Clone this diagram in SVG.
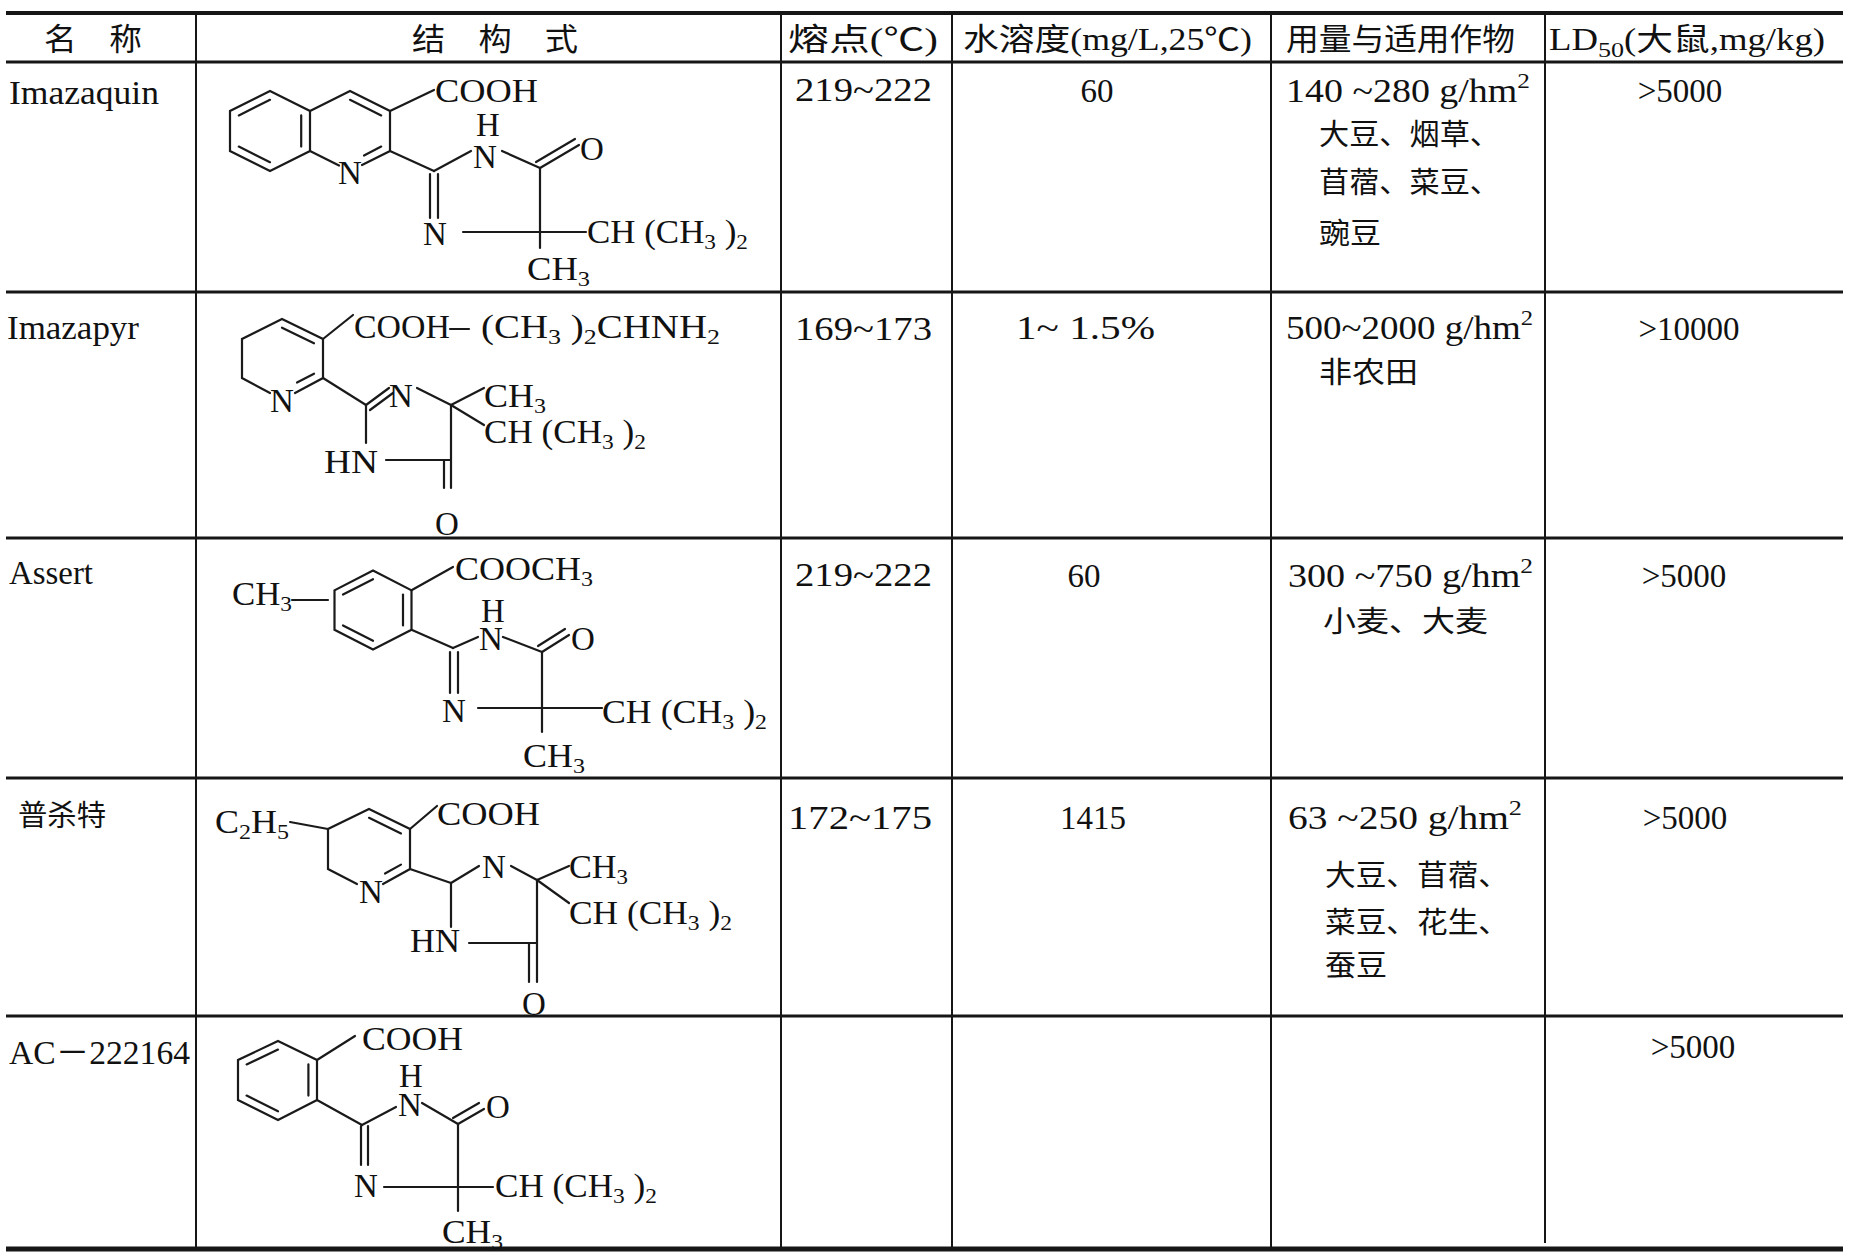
<svg xmlns="http://www.w3.org/2000/svg" width="1850" height="1257" viewBox="0 0 1850 1257">
<style>
.bg{fill:#fff}
.rule{stroke:#161616;fill:none}
.b{stroke:#1a1a1a;stroke-width:2.2;fill:none;stroke-linecap:round}
.tx{font-family:"Liberation Serif","Noto Sans CJK SC",serif;font-size:33px;fill:#111}
.ch{font-family:"Liberation Serif","Noto Sans CJK SC",serif;font-size:33px;fill:#111}
.cj{font-family:"Liberation Serif","Noto Sans CJK SC",sans-serif;font-size:29px;fill:#111}
.hd{font-family:"Liberation Serif","Noto Sans CJK SC",sans-serif;font-size:31px;fill:#111}
.m{text-anchor:middle}
.sb{font-size:22px}
</style>
<rect class="bg" x="0" y="0" width="1850" height="1257"/>

<g id="table-grid">
  <line class="rule" x1="6" y1="13" x2="1843" y2="13" stroke-width="4"/>
  <line class="rule" x1="6" y1="62" x2="1843" y2="62" stroke-width="3"/>
  <line class="rule" x1="6" y1="292" x2="1843" y2="292" stroke-width="3"/>
  <line class="rule" x1="6" y1="538" x2="1843" y2="538" stroke-width="3"/>
  <line class="rule" x1="6" y1="778" x2="1843" y2="778" stroke-width="3"/>
  <line class="rule" x1="6" y1="1016" x2="1843" y2="1016" stroke-width="3"/>
  <line class="rule" x1="6" y1="1249" x2="1843" y2="1249" stroke-width="5"/>
  <line class="rule" x1="196" y1="13" x2="196" y2="1249" stroke-width="2"/>
  <line class="rule" x1="781" y1="13" x2="781" y2="1249" stroke-width="2"/>
  <line class="rule" x1="952" y1="13" x2="952" y2="1249" stroke-width="2"/>
  <line class="rule" x1="1271" y1="13" x2="1271" y2="1249" stroke-width="2"/>
  <line class="rule" x1="1545" y1="13" x2="1545" y2="1243" stroke-width="2"/>
</g>

<g id="header">
  <text class="hd" x="44" y="50" textLength="98" lengthAdjust="spacingAndGlyphs">名　称</text>
  <text class="hd" x="412" y="50" textLength="166" lengthAdjust="spacingAndGlyphs">结　构　式</text>
  <text class="hd" x="788" y="50" textLength="150" lengthAdjust="spacingAndGlyphs">熔点(℃)</text>
  <text class="hd" x="963" y="50" textLength="289" lengthAdjust="spacingAndGlyphs">水溶度(mg/L,25℃)</text>
  <text class="hd" x="1286" y="50" textLength="229" lengthAdjust="spacingAndGlyphs">用量与适用作物</text>
  <text class="hd" x="1549" y="50" textLength="276" lengthAdjust="spacingAndGlyphs">LD<tspan class="sb" dy="7">50</tspan><tspan dy="-7">(大鼠,mg/kg)</tspan></text>
</g>

<g id="connectors">
  <!-- Row 1: Imazaquin -->
  <g id="bonds-imazaquin">
    <polygon class="b" points="270,91 310,111 310,151 270,171 230,151 230,111"/>
    <line class="b" x1="238.8" y1="115.4" x2="270" y2="99.8"/>
    <line class="b" x1="301.2" y1="115.4" x2="301.2" y2="146.6"/>
    <line class="b" x1="238.8" y1="146.6" x2="270" y2="162.2"/>
    <polyline class="b" points="310,111 350,91 390,111 390,151 362,165"/>
    <line class="b" x1="350" y1="99.8" x2="381.2" y2="115.4"/>
    <line class="b" x1="381.2" y1="146.6" x2="364" y2="155.5"/>
    <line class="b" x1="339" y1="165.5" x2="310" y2="151"/>
    <line class="b" x1="390" y1="111" x2="434" y2="90"/>
    <line class="b" x1="390" y1="151" x2="434" y2="171"/>
    <line class="b" x1="434" y1="171" x2="471" y2="151"/>
    <line class="b" x1="502" y1="151" x2="540" y2="168"/>
    <line class="b" x1="540" y1="168" x2="579" y2="145"/>
    <line class="b" x1="536" y1="162" x2="575" y2="139"/>
    <line class="b" x1="540" y1="168" x2="540" y2="248"/>
    <line class="b" x1="463" y1="232" x2="586" y2="232"/>
    <line class="b" x1="430" y1="174" x2="430" y2="218"/>
    <line class="b" x1="438" y1="174" x2="438" y2="218"/>
  </g>
  <!-- Row 2: Imazapyr -->
  <g id="bonds-imazapyr">
    <polyline class="b" points="270,393 242,378 242,339 282,319 323,339 323,378 295,393"/>
    <line class="b" x1="282" y1="327.7" x2="314" y2="343.3"/>
    <line class="b" x1="314" y1="373.7" x2="297" y2="382.5"/>
    <line class="b" x1="323" y1="339" x2="353" y2="315"/>
    <line class="b" x1="450" y1="329" x2="469" y2="329"/>
    <line class="b" x1="323" y1="378" x2="366" y2="405"/>
    <line class="b" x1="366" y1="405" x2="389" y2="388"/>
    <line class="b" x1="370" y1="410" x2="393" y2="393"/>
    <line class="b" x1="417" y1="388" x2="451" y2="405"/>
    <line class="b" x1="451" y1="405" x2="484" y2="388"/>
    <line class="b" x1="451" y1="405" x2="484" y2="425"/>
    <line class="b" x1="451" y1="405" x2="451" y2="488"/>
    <line class="b" x1="444" y1="460" x2="444" y2="488"/>
    <line class="b" x1="366" y1="405" x2="366" y2="443"/>
    <line class="b" x1="386" y1="460" x2="451" y2="460"/>
  </g>
  <!-- Row 3: Assert -->
  <g id="bonds-assert">
    <polygon class="b" points="373,570.5 411.5,590.3 411.5,629.8 373,649.5 334.5,629.8 334.5,590.3"/>
    <line class="b" x1="343" y1="594.6" x2="373" y2="579.2"/>
    <line class="b" x1="403" y1="594.6" x2="403" y2="625.4"/>
    <line class="b" x1="343" y1="625.4" x2="373" y2="640.8"/>
    <line class="b" x1="292" y1="600" x2="328" y2="600"/>
    <line class="b" x1="411.5" y1="590.3" x2="453" y2="567"/>
    <line class="b" x1="411.5" y1="629.8" x2="453" y2="648"/>
    <line class="b" x1="453" y1="648" x2="478" y2="637"/>
    <line class="b" x1="503" y1="637" x2="542" y2="652"/>
    <line class="b" x1="542" y1="652" x2="569" y2="635"/>
    <line class="b" x1="538" y1="646" x2="565" y2="629"/>
    <line class="b" x1="542" y1="652" x2="542" y2="732"/>
    <line class="b" x1="478" y1="708" x2="602" y2="708"/>
    <line class="b" x1="450" y1="652" x2="450" y2="693"/>
    <line class="b" x1="458" y1="652" x2="458" y2="693"/>
  </g>
  <!-- Row 4: 普杀特 -->
  <g id="bonds-pusate">
    <polyline class="b" points="357,884 328,869 328,829 369,809 410,829 410,869 383,884"/>
    <line class="b" x1="369" y1="817.8" x2="401" y2="833.4"/>
    <line class="b" x1="401" y1="864.6" x2="385" y2="873.5"/>
    <line class="b" x1="290" y1="822" x2="328" y2="829"/>
    <line class="b" x1="410" y1="829" x2="437" y2="806"/>
    <line class="b" x1="410" y1="869" x2="451" y2="883"/>
    <line class="b" x1="451" y1="883" x2="479" y2="866"/>
    <line class="b" x1="511" y1="866" x2="537" y2="880"/>
    <line class="b" x1="537" y1="880" x2="569" y2="866"/>
    <line class="b" x1="537" y1="880" x2="569" y2="903"/>
    <line class="b" x1="537" y1="880" x2="537" y2="982"/>
    <line class="b" x1="529" y1="943" x2="529" y2="982"/>
    <line class="b" x1="451" y1="883" x2="451" y2="927"/>
    <line class="b" x1="469" y1="943" x2="537" y2="943"/>
  </g>
  <!-- Row 5: AC-222164 -->
  <g id="bonds-ac222164">
    <polygon class="b" points="278,1041 317,1060 317,1100 278,1120 238,1100 238,1060"/>
    <line class="b" x1="246.6" y1="1064.4" x2="278" y2="1049.6"/>
    <line class="b" x1="308.4" y1="1064.4" x2="308.4" y2="1095.6"/>
    <line class="b" x1="246.6" y1="1095.6" x2="278" y2="1111.3"/>
    <line class="b" x1="317" y1="1060" x2="355" y2="1036"/>
    <line class="b" x1="317" y1="1100" x2="362" y2="1125"/>
    <line class="b" x1="362" y1="1125" x2="396" y2="1107"/>
    <line class="b" x1="422" y1="1103" x2="458" y2="1124"/>
    <line class="b" x1="458" y1="1124" x2="484" y2="1109"/>
    <line class="b" x1="453" y1="1118" x2="479" y2="1103"/>
    <line class="b" x1="458" y1="1124" x2="458" y2="1211"/>
    <line class="b" x1="384" y1="1187" x2="493" y2="1187"/>
    <line class="b" x1="361" y1="1126" x2="361" y2="1165"/>
    <line class="b" x1="368" y1="1126" x2="368" y2="1165"/>
  </g>
</g>

<g id="row-imazaquin">
  <text class="tx" x="9" y="104" textLength="150" lengthAdjust="spacingAndGlyphs">Imazaquin</text>
  <text class="ch" x="435" y="102" textLength="103" lengthAdjust="spacingAndGlyphs">COOH</text>
  <text class="ch m" x="488" y="136">H</text>
  <text class="ch m" x="485" y="168">N</text>
  <text class="ch m" x="350" y="184">N</text>
  <text class="ch m" x="592" y="160">O</text>
  <text class="ch m" x="435" y="245">N</text>
  <text class="ch" x="587" y="243" textLength="161" lengthAdjust="spacingAndGlyphs">CH (CH<tspan class="sb" dy="6">3</tspan><tspan dy="-6"> )</tspan><tspan class="sb" dy="6">2</tspan></text>
  <text class="ch" x="527" y="280" textLength="63" lengthAdjust="spacingAndGlyphs">CH<tspan class="sb" dy="6">3</tspan></text>
  <text class="tx" x="795" y="101" textLength="137" lengthAdjust="spacingAndGlyphs">219~222</text>
  <text class="tx m" x="1097" y="102">60</text>
  <text class="tx" x="1286" y="102" textLength="244" lengthAdjust="spacingAndGlyphs">140 ~280 g/hm<tspan class="sb" dy="-14">2</tspan></text>
  <text class="cj" x="1319" y="145" textLength="181" lengthAdjust="spacingAndGlyphs">大豆、烟草、</text>
  <text class="cj" x="1319" y="193" textLength="181" lengthAdjust="spacingAndGlyphs">苜蓿、菜豆、</text>
  <text class="cj" x="1319" y="244" textLength="62" lengthAdjust="spacingAndGlyphs">豌豆</text>
  <text class="tx m" x="1680" y="102">&gt;5000</text>
</g>

<g id="row-imazapyr">
  <text class="tx" x="7" y="339" textLength="132" lengthAdjust="spacingAndGlyphs">Imazapyr</text>
  <text class="ch" x="354" y="338" textLength="96" lengthAdjust="spacingAndGlyphs">COOH</text>
  <text class="ch" x="481" y="338" textLength="239" lengthAdjust="spacingAndGlyphs">(CH<tspan class="sb" dy="6">3</tspan><tspan dy="-6"> )</tspan><tspan class="sb" dy="6">2</tspan><tspan dy="-6">CHNH</tspan><tspan class="sb" dy="6">2</tspan></text>
  <text class="ch m" x="282" y="412">N</text>
  <text class="ch m" x="401" y="407">N</text>
  <text class="ch" x="484" y="407" textLength="62" lengthAdjust="spacingAndGlyphs">CH<tspan class="sb" dy="6">3</tspan></text>
  <text class="ch" x="484" y="443" textLength="162" lengthAdjust="spacingAndGlyphs">CH (CH<tspan class="sb" dy="6">3</tspan><tspan dy="-6"> )</tspan><tspan class="sb" dy="6">2</tspan></text>
  <text class="ch" x="324" y="473" textLength="54" lengthAdjust="spacingAndGlyphs">HN</text>
  <text class="ch m" x="447" y="535">O</text>
  <text class="tx" x="795" y="340" textLength="137" lengthAdjust="spacingAndGlyphs">169~173</text>
  <text class="tx" x="1016" y="339" textLength="139" lengthAdjust="spacingAndGlyphs">1~ 1.5%</text>
  <text class="tx" x="1286" y="339" textLength="247" lengthAdjust="spacingAndGlyphs">500~2000 g/hm<tspan class="sb" dy="-14">2</tspan></text>
  <text class="cj" x="1319" y="383" textLength="99" lengthAdjust="spacingAndGlyphs">非农田</text>
  <text class="tx m" x="1689" y="340">&gt;10000</text>
</g>

<g id="row-assert">
  <text class="tx" x="9" y="584" textLength="84" lengthAdjust="spacingAndGlyphs">Assert</text>
  <text class="ch" x="232" y="605" textLength="60" lengthAdjust="spacingAndGlyphs">CH<tspan class="sb" dy="6">3</tspan></text>
  <text class="ch" x="455" y="580" textLength="138" lengthAdjust="spacingAndGlyphs">COOCH<tspan class="sb" dy="6">3</tspan></text>
  <text class="ch m" x="493" y="622">H</text>
  <text class="ch m" x="491" y="650">N</text>
  <text class="ch m" x="583" y="650">O</text>
  <text class="ch m" x="454" y="722">N</text>
  <text class="ch" x="602" y="723" textLength="165" lengthAdjust="spacingAndGlyphs">CH (CH<tspan class="sb" dy="6">3</tspan><tspan dy="-6"> )</tspan><tspan class="sb" dy="6">2</tspan></text>
  <text class="ch" x="523" y="767" textLength="62" lengthAdjust="spacingAndGlyphs">CH<tspan class="sb" dy="6">3</tspan></text>
  <text class="tx" x="795" y="586" textLength="137" lengthAdjust="spacingAndGlyphs">219~222</text>
  <text class="tx m" x="1084" y="587">60</text>
  <text class="tx" x="1288" y="587" textLength="245" lengthAdjust="spacingAndGlyphs">300 ~750 g/hm<tspan class="sb" dy="-14">2</tspan></text>
  <text class="cj" x="1323" y="632" textLength="165" lengthAdjust="spacingAndGlyphs">小麦、大麦</text>
  <text class="tx m" x="1684" y="587">&gt;5000</text>
</g>

<g id="row-pusate">
  <text class="cj" x="18" y="826" textLength="88" lengthAdjust="spacingAndGlyphs">普杀特</text>
  <text class="ch" x="215" y="833" textLength="74" lengthAdjust="spacingAndGlyphs">C<tspan class="sb" dy="6">2</tspan><tspan dy="-6">H</tspan><tspan class="sb" dy="6">5</tspan></text>
  <text class="ch" x="437" y="825" textLength="103" lengthAdjust="spacingAndGlyphs">COOH</text>
  <text class="ch m" x="371" y="903">N</text>
  <text class="ch m" x="494" y="878">N</text>
  <text class="ch" x="569" y="878" textLength="59" lengthAdjust="spacingAndGlyphs">CH<tspan class="sb" dy="6">3</tspan></text>
  <text class="ch" x="569" y="924" textLength="163" lengthAdjust="spacingAndGlyphs">CH (CH<tspan class="sb" dy="6">3</tspan><tspan dy="-6"> )</tspan><tspan class="sb" dy="6">2</tspan></text>
  <text class="ch" x="410" y="952" textLength="50" lengthAdjust="spacingAndGlyphs">HN</text>
  <text class="ch m" x="534" y="1015">O</text>
  <text class="tx" x="788" y="829" textLength="144" lengthAdjust="spacingAndGlyphs">172~175</text>
  <text class="tx m" x="1093" y="829">1415</text>
  <text class="tx" x="1288" y="829" textLength="234" lengthAdjust="spacingAndGlyphs">63 ~250 g/hm<tspan class="sb" dy="-14">2</tspan></text>
  <text class="cj" x="1325" y="886" textLength="184" lengthAdjust="spacingAndGlyphs">大豆、苜蓿、</text>
  <text class="cj" x="1325" y="933" textLength="184" lengthAdjust="spacingAndGlyphs">菜豆、花生、</text>
  <text class="cj" x="1325" y="976" textLength="62" lengthAdjust="spacingAndGlyphs">蚕豆</text>
  <text class="tx m" x="1685" y="829">&gt;5000</text>
</g>

<g id="row-ac222164">
  <text class="tx" x="9" y="1064" textLength="181" lengthAdjust="spacingAndGlyphs">AC－222164</text>
  <text class="ch" x="362" y="1050" textLength="101" lengthAdjust="spacingAndGlyphs">COOH</text>
  <text class="ch m" x="411" y="1087">H</text>
  <text class="ch m" x="410" y="1116">N</text>
  <text class="ch m" x="498" y="1118">O</text>
  <text class="ch m" x="366" y="1197">N</text>
  <text class="ch" x="495" y="1197" textLength="162" lengthAdjust="spacingAndGlyphs">CH (CH<tspan class="sb" dy="6">3</tspan><tspan dy="-6"> )</tspan><tspan class="sb" dy="6">2</tspan></text>
  <text class="ch" x="442" y="1243" textLength="61" lengthAdjust="spacingAndGlyphs">CH<tspan class="sb" dy="6">3</tspan></text>
  <text class="tx m" x="1693" y="1058">&gt;5000</text>
</g>
</svg>
